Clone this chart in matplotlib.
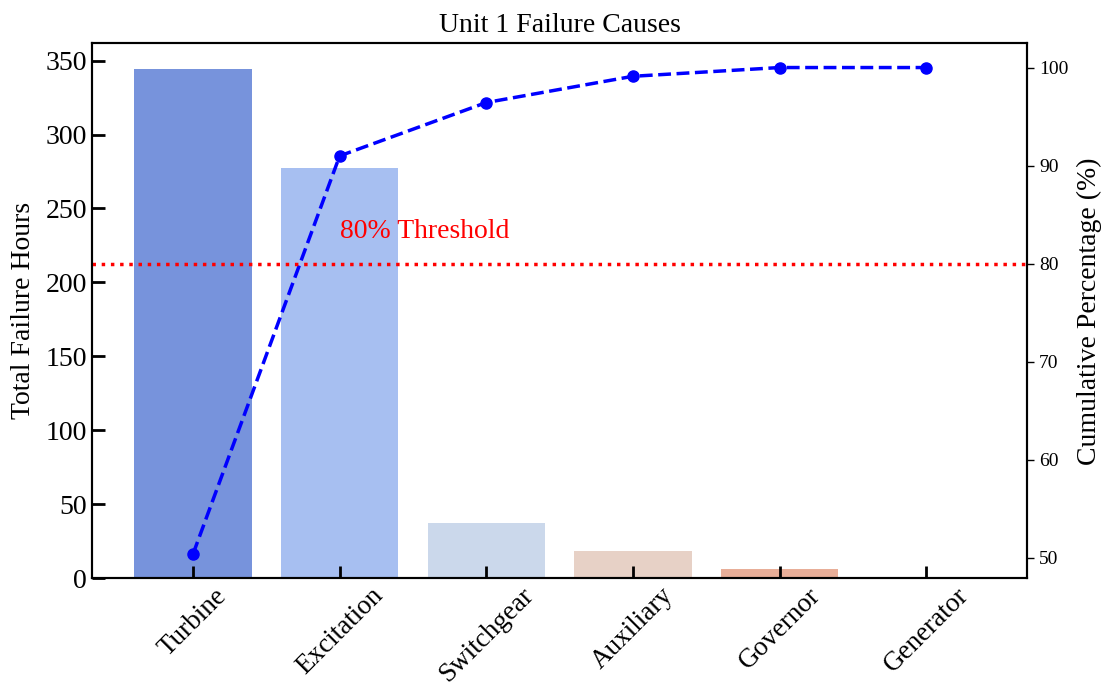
import matplotlib
matplotlib.use('Agg')
import matplotlib.pyplot as plt
import numpy as np

plt.rcParams['font.family'] = 'serif'
plt.rcParams['font.serif'] = ['Times New Roman', 'Liberation Serif', 'DejaVu Serif']

# 数据
causes = ['Turbine', 'Excitation', 'Switchgear', 'Auxiliary', 'Governor', 'Generator']
hours = [344.5, 277.5, 37.2, 18.3, 6.1, 0.0]
bar_colors = ['#7793DC', '#A7BFF1', '#CBD8EB', '#E7D1C6', '#E8AE98', '#E07A5F']
threshold = 80

cum_pct = np.cumsum(hours) / np.sum(hours) * 100

fig, ax1 = plt.subplots(figsize=(11.07, 6.86), dpi=100)
fig.subplots_adjust(left=0.083, right=0.928, top=0.937, bottom=0.157)

x = np.arange(len(causes))
ax1.bar(x, hours, width=0.8, color=bar_colors)
ax1.set_ylabel('Total Failure Hours', fontsize=20, labelpad=7)
ax1.set_xticks(x)
ax1.set_xticklabels(causes, rotation=45, fontsize=19.5)
ax1.tick_params(axis='both', direction='in', length=9, width=2, labelsize=20)
ax1.tick_params(axis='x', labelsize=19.5)
ax1.set_ylim(0, None)
for s in ax1.spines.values():
    s.set_linewidth(1.5)

# 累计百分比
ax2 = ax1.twinx()
ax2.plot(x, cum_pct, color='b', linestyle='--', linewidth=2.5, marker='o', markersize=8)
ax2.axhline(threshold, color='red', linestyle=':', linewidth=2.5)
ax2.text(1, threshold + 2, '80% Threshold', color='red', fontsize=20, va='bottom')
ax2.set_ylabel('Cumulative Percentage (%)', fontsize=20, labelpad=6)
ax2.tick_params(axis='y', labelsize=14, length=5, width=1)
for s in ax2.spines.values():
    s.set_linewidth(1.5)

plt.title('Unit 1 Failure Causes', fontsize=20, pad=8)
plt.savefig('out.png')
